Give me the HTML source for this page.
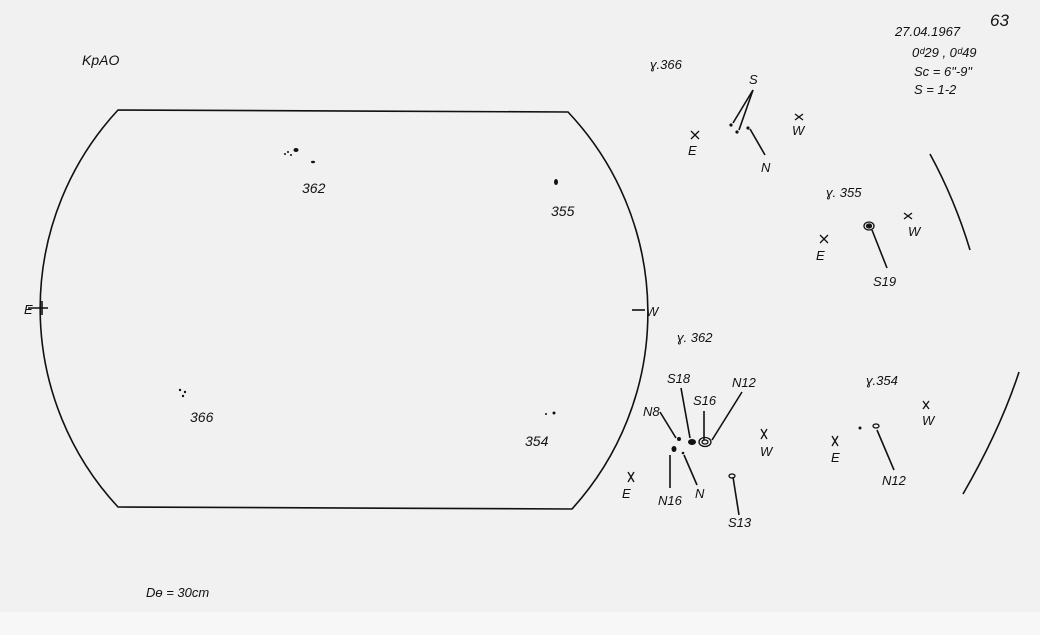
<!DOCTYPE html>
<html><head><meta charset="utf-8"><style>
html,body{margin:0;padding:0;background:#f2f2f2}
svg{display:block}
text{font-family:"Liberation Sans",sans-serif;font-style:italic;fill:#111}
</style></head><body>
<svg width="1040" height="635" viewBox="0 0 1040 635" xmlns="http://www.w3.org/2000/svg">
<rect width="1040" height="635" fill="#f1f1f1"/>
<rect x="0" y="612" width="1040" height="23" fill="#f7f7f7"/>
<g stroke="#111" stroke-width="1.6" fill="none">
<path d="M118 110 L568 112 A292 292 0 0 1 572 509 L118 507 A292 292 0 0 1 118 110 Z"/>
<line x1="28" y1="308" x2="48" y2="308"/><line x1="42" y1="301" x2="42" y2="315"/>
<line x1="632" y1="310" x2="645" y2="310"/>
<!-- limb arcs right -->
<path d="M930 154 Q955 200 970 250"/>
<path d="M1019 372 Q1000 430 963 494"/>
<!-- 366 -->
<line x1="753" y1="90" x2="733" y2="123"/><line x1="753" y1="90" x2="739" y2="130"/>
<line x1="750" y1="129" x2="765" y2="155"/>
<!-- 355 -->
<line x1="872" y1="230" x2="887" y2="268"/>
<!-- 362 -->
<line x1="660" y1="412" x2="676" y2="438"/>
<line x1="681" y1="388" x2="690" y2="438"/>
<line x1="704" y1="411" x2="704" y2="440"/>
<line x1="742" y1="392" x2="712" y2="440"/>
<line x1="670" y1="455" x2="670" y2="488"/>
<line x1="684" y1="455" x2="697" y2="485"/>
<line x1="733" y1="477" x2="739" y2="515"/>
<!-- 354 -->
<line x1="877" y1="430" x2="894" y2="470"/>
</g>
<g stroke="#111" stroke-width="1.3" fill="none">
<path d="M691 131 l8 8 M699 131 l-8 8"/>
<path d="M795 114 l8 6 M803 114 l-8 6"/>
<path d="M820 235 l8 8 M828 235 l-8 8"/>
<path d="M904 213 l8 6 M912 213 l-8 6"/>
<path d="M628 472 l6 10 M634 472 l-6 10"/>
<path d="M761 429 l6 10 M767 429 l-6 10"/>
<path d="M832 436 l6 10 M838 436 l-6 10"/>
<path d="M923 401 l6 8 M929 401 l-6 8"/>
<ellipse cx="869" cy="226" rx="5" ry="4"/><ellipse cx="869" cy="226" rx="2.5" ry="2"/>
<ellipse cx="705" cy="442" rx="6" ry="4.5"/><ellipse cx="705" cy="442" rx="3" ry="2"/>
<ellipse cx="732" cy="476" rx="3" ry="2"/>
<ellipse cx="876" cy="426" rx="3" ry="2"/>
</g>
<g fill="#111">
<circle cx="731" cy="125" r="1.6"/><circle cx="737" cy="132" r="1.6"/><circle cx="748" cy="128" r="1.6"/>
<ellipse cx="869" cy="226" rx="2" ry="1.5"/>
<circle cx="679" cy="439" r="2"/><ellipse cx="692" cy="442" rx="4" ry="3"/>
<ellipse cx="674" cy="449" rx="2.5" ry="3"/><circle cx="683" cy="453" r="1.3"/>
<circle cx="860" cy="428" r="1.5"/>
<!-- disk spots -->
<ellipse cx="296" cy="150" rx="2.5" ry="2"/><circle cx="288" cy="152" r="1"/><circle cx="285" cy="154" r="1"/><circle cx="291" cy="155" r="1"/><ellipse cx="313" cy="162" rx="2" ry="1.2"/>
<ellipse cx="556" cy="182" rx="2" ry="3"/>
<circle cx="180" cy="390" r="1.2"/><circle cx="185" cy="392" r="1.2"/><circle cx="183" cy="396" r="1.2"/>
<circle cx="546" cy="414" r="1"/><circle cx="554" cy="413" r="1.5"/>
</g>
<text x="82" y="65" font-size="14">KpAO</text>
<text x="302" y="193" font-size="14">362</text>
<text x="551" y="216" font-size="14">355</text>
<text x="190" y="422" font-size="14">366</text>
<text x="525" y="446" font-size="14">354</text>
<text x="24" y="314" font-size="13">E</text>
<text x="646" y="316" font-size="13">W</text>
<text x="146" y="597" font-size="13">Dɵ = 30cm</text>
<text x="895" y="36" font-size="13">27.04.1967</text>
<text x="990" y="26" font-size="17" font-style="normal" fill="#555">63</text>
<text x="912" y="57" font-size="13">0ᵈ29 , 0ᵈ49</text>
<text x="914" y="76" font-size="13">Sc = 6"-9"</text>
<text x="914" y="94" font-size="13">S  = 1-2</text>
<text x="650" y="69" font-size="13">ɣ.366</text>
<text x="749" y="84" font-size="13">S</text>
<text x="688" y="155" font-size="13">E</text>
<text x="792" y="135" font-size="13">W</text>
<text x="761" y="172" font-size="13">N</text>
<text x="826" y="197" font-size="13">ɣ. 355</text>
<text x="816" y="260" font-size="13">E</text>
<text x="908" y="236" font-size="13">W</text>
<text x="873" y="286" font-size="13">S19</text>
<text x="677" y="342" font-size="13">ɣ. 362</text>
<text x="667" y="383" font-size="13">S18</text>
<text x="693" y="405" font-size="13">S16</text>
<text x="732" y="387" font-size="13">N12</text>
<text x="643" y="416" font-size="13">N8</text>
<text x="658" y="505" font-size="13">N16</text>
<text x="695" y="498" font-size="13">N</text>
<text x="622" y="498" font-size="13">E</text>
<text x="760" y="456" font-size="13">W</text>
<text x="728" y="527" font-size="13">S13</text>
<text x="866" y="385" font-size="13">ɣ.354</text>
<text x="831" y="462" font-size="13">E</text>
<text x="922" y="425" font-size="13">W</text>
<text x="882" y="485" font-size="13">N12</text>
</svg>
</body></html>
